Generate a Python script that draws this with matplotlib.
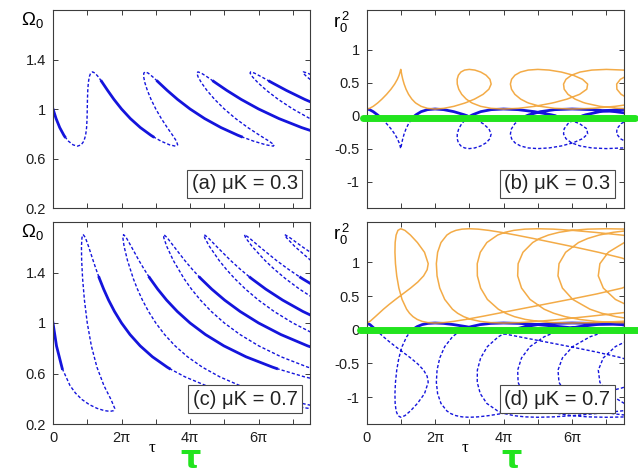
import numpy as np
import matplotlib
matplotlib.use("Agg")
import matplotlib.pyplot as plt

plt.rcParams['font.family'] = ['Liberation Sans', 'DejaVu Sans']
plt.rcParams['mathtext.fontset'] = 'custom'
plt.rcParams['mathtext.rm'] = 'Liberation Sans'
plt.rcParams['mathtext.it'] = 'Liberation Sans:italic'

# digitised branches, tau in units of pi, None = branch leaves the frame
# muK = 0.3
tau_03 = [0.0, 0.0903, 0.1961, 0.3173, 0.3448, 0.4503, 0.5867, 0.7143, 0.8214, 0.9007,
          0.9519, 0.9804, 0.9938, 1.0, 1.0053, 1.0145, 1.0313, 1.0584, 1.0984, 1.1538,
          1.2276, 1.3230, 1.4158, 1.4438, 1.5942, 1.7787,
          2.0, 2.2585, 2.5491, 2.8557, 2.9208, 3.1523, 3.4029, 3.5715, 3.6376, 3.6027,
          3.4903, 3.3334, 3.1620, 3.0, 2.8613, 2.7538, 2.6813, 2.6460, 2.6490, 2.6922,
          2.7781, 2.9106, 3.0504, 3.0938, 3.3335, 3.6347,
          4.0, 4.4267, 4.9021, 5.3941, 5.4968, 5.8543, 6.2192, 6.4287, 6.4538, 6.3047,
          6.0287, 5.6864, 5.3302, 5.0, 4.7173, 4.4930, 4.3313, 4.2336, 4.1996, 4.2306,
          4.3287, 4.4982, 4.6849, 4.7438, 5.0727, 5.4907,
          6.0, 6.5949, 7.2551, 7.9325, None,
          8.0394, 7.4984, 7.0, 6.5733, 6.2322, 5.9813, 5.8212, 5.7502, 5.7690, 5.8793,
          6.0858, 6.3196, 6.3938, 6.8118, 7.3467, 8.0, None,
          7.6313, 7.4089, 7.3008, 7.3074, 7.4299, 7.6734]
om_03 = [1.0, 0.9224, 0.85, 0.7879, 0.7764, 0.7402, 0.7102, 0.7, 0.7102, 0.7402,
         0.7879, 0.85, 0.9224, 1.0, 1.0776, 1.15, 1.2121, 1.2598, 1.2898, 1.3,
         1.2898, 1.2598, 1.2236, 1.2121, 1.15, 1.0776,
         1.0, 0.9224, 0.85, 0.7879, 0.7764, 0.7402, 0.7102, 0.7, 0.7102, 0.7402,
         0.7879, 0.85, 0.9224, 1.0, 1.0776, 1.15, 1.2121, 1.2598, 1.2898, 1.3,
         1.2898, 1.2598, 1.2236, 1.2121, 1.15, 1.0776,
         1.0, 0.9224, 0.85, 0.7879, 0.7764, 0.7402, 0.7102, 0.7, 0.7102, 0.7402,
         0.7879, 0.85, 0.9224, 1.0, 1.0776, 1.15, 1.2121, 1.2598, 1.2898, 1.3,
         1.2898, 1.2598, 1.2236, 1.2121, 1.15, 1.0776,
         1.0, 0.9224, 0.85, 0.7879, None,
         0.85, 0.9224, 1.0, 1.0776, 1.15, 1.2121, 1.2598, 1.2898, 1.3, 1.2898,
         1.2598, 1.2236, 1.2121, 1.15, 1.0776, 1.0, None,
         1.2121, 1.2598, 1.2898, 1.3, 1.2898, 1.2598]
r2b_03 = [0.1, 0.0898, 0.0598, 0.0121, 0.0, -0.05, -0.1224, -0.2, -0.2776, -0.35,
          -0.4121, -0.4598, -0.4898, -0.5, -0.4898, -0.4598, -0.4121, -0.35, -0.2776, -0.2,
          -0.1224, -0.05, 0.0, 0.0121, 0.0598, 0.0898,
          0.1, 0.0898, 0.0598, 0.0121, 0.0, -0.05, -0.1224, -0.2, -0.2776, -0.35,
          -0.4121, -0.4598, -0.4898, -0.5, -0.4898, -0.4598, -0.4121, -0.35, -0.2776, -0.2,
          -0.1224, -0.05, 0.0, 0.0121, 0.0598, 0.0898,
          0.1, 0.0898, 0.0598, 0.0121, 0.0, -0.05, -0.1224, -0.2, -0.2776, -0.35,
          -0.4121, -0.4598, -0.4898, -0.5, -0.4898, -0.4598, -0.4121, -0.35, -0.2776, -0.2,
          -0.1224, -0.05, 0.0, 0.0121, 0.0598, 0.0898,
          0.1, 0.0898, 0.0598, 0.0121, None,
          -0.4598, -0.4898, -0.5, -0.4898, -0.4598, -0.4121, -0.35, -0.2776, -0.2, -0.1224,
          -0.05, 0.0, 0.0121, 0.0598, 0.0898, 0.1, None,
          -0.4121, -0.35, -0.2776, -0.2, -0.1224, -0.05]
r2o_03 = [0.1, 0.1102, 0.1402, 0.1879, 0.2, 0.25, 0.3224, 0.4, 0.4776, 0.55,
          0.6121, 0.6598, 0.6898, 0.7, 0.6898, 0.6598, 0.6121, 0.55, 0.4776, 0.4,
          0.3224, 0.25, 0.2, 0.1879, 0.1402, 0.1102,
          0.1, 0.1102, 0.1402, 0.1879, 0.2, 0.25, 0.3224, 0.4, 0.4776, 0.55,
          0.6121, 0.6598, 0.6898, 0.7, 0.6898, 0.6598, 0.6121, 0.55, 0.4776, 0.4,
          0.3224, 0.25, 0.2, 0.1879, 0.1402, 0.1102,
          0.1, 0.1102, 0.1402, 0.1879, 0.2, 0.25, 0.3224, 0.4, 0.4776, 0.55,
          0.6121, 0.6598, 0.6898, 0.7, 0.6898, 0.6598, 0.6121, 0.55, 0.4776, 0.4,
          0.3224, 0.25, 0.2, 0.1879, 0.1402, 0.1102,
          0.1, 0.1102, 0.1402, 0.1879, None,
          0.6598, 0.6898, 0.7, 0.6898, 0.6598, 0.6121, 0.55, 0.4776, 0.4, 0.3224,
          0.25, 0.2, 0.1879, 0.1402, 0.1102, 0.1, None,
          0.6121, 0.55, 0.4776, 0.4, 0.3224, 0.25]

# muK = 0.7
tau_07 = [0.0, 0.1018, 0.2564, 0.2693, 0.4951, 0.6560, 0.8465, 1.0614, 1.2864, 1.4978,
          1.6667, 1.7702, 1.8010, 1.6929, 1.4852, 1.2821, 1.1195, 1.0, 0.9172, 0.8642,
          0.8361, 0.8301, 0.8452, 0.8823, 0.9446, 1.0377, 1.1706, 1.2563, 1.3434, 1.3579,
          1.4788, 1.6226, 1.7944, 2.0, 2.2468, 2.5444, 2.9025, 3.3334, 3.3967, 3.8487,
          4.4555, 5.1545, 5.9253, 6.7222, 7.4612, 8.3333, None,
          7.9758, 7.4298, 6.7717, 6.0916, 5.4456, 4.8653, 4.3591, 3.9270, 3.5621, 3.2556,
          3.0, 2.7871, 2.6103, 2.4647, 2.3456, 2.1739, 2.0753, 2.0384, 2.0587, 2.1378,
          2.2829, 2.5084, 2.6587, 2.8134, 2.8394, 3.0562, 3.3158, 3.6270, 4.0, 4.4478,
          4.9870, 5.6343, 6.4104, 6.5241, 7.3343, 8.4159, None,
          9.406, 7.4361, 6.6588, 6.0047, 5.4566, 5.0, 4.6197, 4.3036, 4.0421, 3.8270,
          3.5117, 3.3205, 3.2316, 3.2351, 3.3310, 3.5281, 3.8462, 4.0611, 4.2834, 4.3208,
          4.6336, 5.0091, 5.4596, 6.0, 6.6488, 7.4296, 8.3661, None,
          7.6576, 7.0, 6.4523, 5.9968, 5.6195, 5.3083, 5.0545, 4.8495, 4.5657, 4.4248,
          4.4115, 4.5242, 4.7733, 5.1840, 5.4636, 5.7534, 5.8022, 6.2110, 6.7022, 7.2922,
          8.0, None,
          7.69, 7.1969, 6.7897, 6.4569, 6.1873, 5.8109, 5.6180, 5.5879, 5.7174, 6.0185,
          6.5218, 6.866, 7.2234, 7.2835, 7.7884, None,
          7.5251, 7.0561, 6.8112, 6.7643, 6.9106, 7.2637, 7.8596]
om_07 = [1.0, 0.8188, 0.65, 0.6395, 0.5050, 0.4446, 0.3938, 0.3533, 0.3239, 0.3060,
         0.3, 0.3060, 0.3239, 0.3938, 0.5050, 0.65, 0.8188, 1.0, 1.1812, 1.35,
         1.4950, 1.6062, 1.6761, 1.7, 1.6761, 1.6062, 1.4950, 1.4262, 1.3605, 1.35,
         1.2679, 1.1812, 1.0914, 1.0, 0.9087, 0.8188, 0.7321, 0.65, 0.6395, 0.5738,
         0.5050, 0.4446, 0.3938, 0.3533, 0.3239, 0.3, None,
         0.3239, 0.3533, 0.3938, 0.4446, 0.5050, 0.5738, 0.65, 0.7321, 0.8188, 0.9087,
         1.0, 1.0914, 1.1812, 1.2679, 1.35, 1.4950, 1.6062, 1.6761, 1.7, 1.6761,
         1.6062, 1.4950, 1.4262, 1.3605, 1.35, 1.2679, 1.1812, 1.0914, 1.0, 0.9087,
         0.8188, 0.7321, 0.65, 0.6395, 0.5738, 0.5050, None,
         0.5050, 0.65, 0.7321, 0.8188, 0.9087, 1.0, 1.0914, 1.1812, 1.2679, 1.35,
         1.4950, 1.6062, 1.6761, 1.7, 1.6761, 1.6062, 1.4950, 1.4262, 1.3605, 1.35,
         1.2679, 1.1812, 1.0914, 1.0, 0.9087, 0.8188, 0.7321, None,
         0.9087, 1.0, 1.0914, 1.1812, 1.2679, 1.35, 1.4262, 1.4950, 1.6062, 1.6761,
         1.7, 1.6761, 1.6062, 1.4950, 1.4262, 1.3605, 1.35, 1.2679, 1.1812, 1.0914,
         1.0, None,
         1.1812, 1.2679, 1.35, 1.4262, 1.4950, 1.6062, 1.6761, 1.7, 1.6761, 1.6062,
         1.4950, 1.4262, 1.3605, 1.35, 1.2679, None,
         1.4950, 1.6062, 1.6761, 1.7, 1.6761, 1.6062, 1.4950]
r2b_07 = [0.1, 0.0761, 0.0062, 0.0, -0.1050, -0.1738, -0.25, -0.3321, -0.4188, -0.5086,
          -0.6, -0.6914, -0.7812, -0.95, -1.0950, -1.2062, -1.2761, -1.3, -1.2761, -1.2062,
          -1.0950, -0.95, -0.7812, -0.6, -0.4188, -0.25, -0.1050, -0.0446, 0.0, 0.0062,
          0.0467, 0.0761, 0.094, 0.1, 0.094, 0.0761, 0.0467, 0.0062, 0.0, -0.0446,
          -0.1050, -0.1738, -0.25, -0.3321, -0.4188, -0.6, None,
          -0.7812, -0.8679, -0.95, -1.0262, -1.0950, -1.1554, -1.2062, -1.2467, -1.2761, -1.294,
          -1.3, -1.294, -1.2761, -1.2467, -1.2062, -1.0950, -0.95, -0.7812, -0.6, -0.4188,
          -0.25, -0.1050, -0.0446, 0.0, 0.0062, 0.0467, 0.0761, 0.094, 0.1, 0.094,
          0.0761, 0.0467, 0.0062, 0.0, -0.0446, -0.1050, None,
          -1.0950, -1.2062, -1.2467, -1.2761, -1.294, -1.3, -1.294, -1.2761, -1.2467, -1.2062,
          -1.0950, -0.95, -0.7812, -0.6, -0.4188, -0.25, -0.1050, -0.0446, 0.0, 0.0062,
          0.0467, 0.0761, 0.094, 0.1, 0.094, 0.0761, 0.0467, None,
          -1.294, -1.3, -1.294, -1.2761, -1.2467, -1.2062, -1.1554, -1.0950, -0.95, -0.7812,
          -0.6, -0.4188, -0.25, -0.1050, -0.0446, 0.0, 0.0062, 0.0467, 0.0761, 0.094,
          0.1, None,
          -1.2761, -1.2467, -1.2062, -1.1554, -1.0950, -0.95, -0.7812, -0.6, -0.4188, -0.25,
          -0.1050, -0.0446, 0.0, 0.0062, 0.0467, None,
          -1.0950, -0.95, -0.7812, -0.6, -0.4188, -0.25, -0.1050]
r2o_07 = [0.1, 0.1239, 0.1938, 0.2, 0.3050, 0.3738, 0.45, 0.5321, 0.6188, 0.7086,
          0.8, 0.8914, 0.9812, 1.15, 1.2950, 1.4062, 1.4761, 1.5, 1.4761, 1.4062,
          1.2950, 1.15, 0.9812, 0.8, 0.6188, 0.45, 0.3050, 0.2446, 0.2, 0.1938,
          0.1533, 0.1239, 0.106, 0.1, 0.106, 0.1239, 0.1533, 0.1938, 0.2, 0.2446,
          0.3050, 0.3738, 0.45, 0.5321, 0.6188, 0.8, None,
          0.9812, 1.0679, 1.15, 1.2262, 1.2950, 1.3554, 1.4062, 1.4467, 1.4761, 1.494,
          1.5, 1.494, 1.4761, 1.4467, 1.4062, 1.2950, 1.15, 0.9812, 0.8, 0.6188,
          0.45, 0.3050, 0.2446, 0.2, 0.1938, 0.1533, 0.1239, 0.106, 0.1, 0.106,
          0.1239, 0.1533, 0.1938, 0.2, 0.2446, 0.3050, None,
          1.2950, 1.4062, 1.4467, 1.4761, 1.494, 1.5, 1.494, 1.4761, 1.4467, 1.4062,
          1.2950, 1.15, 0.9812, 0.8, 0.6188, 0.45, 0.3050, 0.2446, 0.2, 0.1938,
          0.1533, 0.1239, 0.106, 0.1, 0.106, 0.1239, 0.1533, None,
          1.494, 1.5, 1.494, 1.4761, 1.4467, 1.4062, 1.3554, 1.2950, 1.15, 0.9812,
          0.8, 0.6188, 0.45, 0.3050, 0.2446, 0.2, 0.1938, 0.1533, 0.1239, 0.106,
          0.1, None,
          1.4761, 1.4467, 1.4062, 1.3554, 1.2950, 1.15, 0.9812, 0.8, 0.6188, 0.45,
          0.3050, 0.2446, 0.2, 0.1938, 0.1533, None,
          1.2950, 1.15, 0.9812, 0.8, 0.6188, 0.45, 0.3050]

# hand-drawn green marks on the r0^2 panels
green_tau_b = [-0.1, 7.83]
green_r2_b = [-0.03, -0.03]
green_tau_d = [-0.2, 7.95]
green_r2_d = [-0.01, -0.01]

xtick_pos = [0, 1, 2, 3, 4, 5, 6, 7]
xtick_lab = ['0', '', '2π', '', '4π', '', '6π', '']

BLUE = '#1414dc'
ORANGE = '#f2a233'
GREEN = '#22e41e'
EDGE = '#3c3c3c'


def arr(v):
    return np.array(v, dtype=float)


def style(ax, bottom_labels):
    for s in ax.spines.values():
        s.set_color(EDGE)
        s.set_linewidth(0.8)
    ax.tick_params(direction='in', top=True, right=True, length=3.5, width=0.7,
                   colors=EDGE, labelcolor='#1e1e1e', labelsize=10.5, pad=5)
    ax.set_xlim(0, 7.5)
    ax.set_xticks(xtick_pos)
    ax.set_xticklabels(xtick_lab)
    ax.tick_params(axis='x', labelbottom=bottom_labels)


def branches(ax, tau, y, r2b):
    t, y, r = arr(tau), arr(y), arr(r2b)
    with np.errstate(invalid='ignore'):
        ax.plot(t, np.where(r <= 0, y, np.nan), color=BLUE, lw=1.0, dashes=(2.3, 1.5))
        ax.plot(t, np.where(r >= 0, y, np.nan), color=BLUE, lw=2.0)


def tag_box(ax, x, y, tag):
    ax.text(x, y, tag, transform=ax.transAxes, ha='right', va='bottom', fontsize=14.5,
            color='#222222', zorder=10,
            bbox=dict(boxstyle='square,pad=0.22', fc='white', ec='#4a4a4a', lw=0.8))


def omega_panel(ax, tau, om, r2b, tag):
    branches(ax, tau, om, r2b)
    ax.set_ylim(0.2, 1.8)
    ax.set_yticks([0.2, 0.6, 1.0, 1.4])
    ax.set_yticklabels(['0.2', '0.6', '1', '1.4'])
    ax.text(-0.078, 1.0, r'$\Omega_0$', transform=ax.transAxes, ha='center', va='top', fontsize=13.5)
    tag_box(ax, 0.952, 0.075, tag)


def r2_panel(ax, tau, r2b, r2o, gt, gr, tag):
    branches(ax, tau, r2b, r2b)
    ax.plot(arr(tau), arr(r2o), color=ORANGE, lw=1.1, alpha=0.9)
    ax.plot(gt, gr, color=GREEN, lw=5, solid_capstyle='round', clip_on=False, zorder=8)
    ax.set_ylim(-1.4, 1.6)
    ax.set_yticks([-1, -0.5, 0, 0.5, 1])
    ax.set_yticklabels(['-1', '-0.5', '0', '0.5', '1'])
    ax.text(-0.096, 1.0, r'$\mathrm{r}_0^{\,2}$', transform=ax.transAxes, ha='center', va='top', fontsize=13.5)
    tag_box(ax, 0.948, 0.075, tag)


fig = plt.figure(figsize=(6.38, 4.75), dpi=100)
W, H = 638.0, 475.0
ax_a = fig.add_axes([53 / W, 1 - 208 / H, 257 / W, 198 / H])
ax_b = fig.add_axes([366.5 / W, 1 - 208 / H, 257 / W, 198 / H])
ax_c = fig.add_axes([53 / W, 1 - 424 / H, 257 / W, 202 / H])
ax_d = fig.add_axes([366.5 / W, 1 - 424 / H, 257 / W, 202 / H])

style(ax_a, False)
style(ax_b, False)
style(ax_c, True)
style(ax_d, True)

omega_panel(ax_a, tau_03, om_03, r2b_03, '(a) μK = 0.3')
r2_panel(ax_b, tau_03, r2b_03, r2o_03, green_tau_b, green_r2_b, '(b) μK = 0.3')
omega_panel(ax_c, tau_07, om_07, r2b_07, '(c) μK = 0.7')
r2_panel(ax_d, tau_07, r2b_07, r2o_07, green_tau_d, green_r2_d, '(d) μK = 0.7')

for ax in (ax_c, ax_d):
    ax.text(0.385, -0.12, 'τ', transform=ax.transAxes, ha='center', va='center',
            family='Liberation Serif', fontsize=12)

# green scribbles under the tau labels
fig.text(0.298, 0.032, 'τ', color=GREEN, fontsize=23, fontweight='bold',
         family='DejaVu Sans', ha='center', va='center')
fig.text(0.802, 0.032, 'τ', color=GREEN, fontsize=23, fontweight='bold',
         family='DejaVu Sans', ha='center', va='center')

fig.savefig('out.png', dpi=100)
